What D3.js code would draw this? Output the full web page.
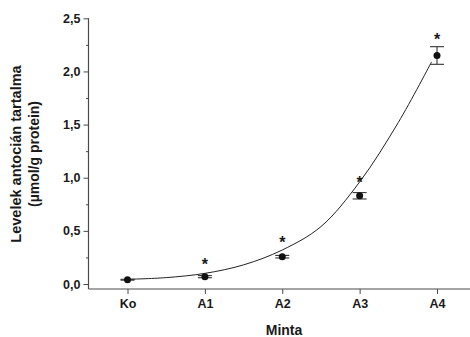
<!DOCTYPE html>
<html>
<head>
<meta charset="utf-8">
<script src="https://cdn.jsdelivr.net/npm/d3@7/dist/d3.min.js"></script>
<style>
  html, body { margin: 0; padding: 0; background: #fff; }
  svg { display: block; }
  text { font-family: "Liberation Sans", Arial, Helvetica, sans-serif; font-weight: bold; fill: #1a1a1a; }
</style>
</head>
<body>
<svg id="chart" width="470" height="337"></svg>
<script>
// Sample groups on the x axis
const categories = ["Ko", "A1", "A2", "A3", "A4"];
// Mean leaf anthocyanin content (µmol/g protein) and its error
const means = [0.04, 0.069, 0.257, 0.83, 2.15];
const errors = [0.004, 0.01, 0.012, 0.03, 0.083];
// Groups marked as significant, with the level the asterisk sits at
const sigGroups = [1, 2, 3, 4];
const sigLevels = [0.22, 0.42, 0.99, 2.33];
// Trend curve traced through the groups (x as group position)
const curveX = [0, 0.5, 1, 1.5, 2, 2.5, 3, 3.5, 3.93];
const curveY = [0.044, 0.06, 0.10, 0.18, 0.32, 0.54, 0.96, 1.52, 2.09];
// Axis ticks
const yMajor = [0, 0.5, 1.0, 1.5, 2.0, 2.5];
const yMinor = [0.25, 0.75, 1.25, 1.75, 2.25];

const svg = d3.select("#chart");
const axisX0 = 88.5, axisBottom = 289, plotRight = 470;

const x = d3.scaleLinear().domain([0, categories.length - 1]).range([127.5, 437]);
const y = d3.scaleLinear().domain([0, 2.5]).range([284, 18.3]);
const fmt = d => d3.format(".1f")(d).replace(".", ",");

const axisColor = "#4a4a4a";

// Y axis: major and minor ticks
const gy = svg.append("g").attr("transform", `translate(${axisX0},0)`);
gy.call(d3.axisLeft(y).tickValues(yMajor).tickSize(5).tickPadding(3).tickFormat(fmt));
gy.select(".domain").remove();
gy.selectAll(".tick line").attr("stroke", axisColor);
gy.selectAll(".tick text").style("font-size", "12.5px").attr("fill", "#1a1a1a");
const gyMinor = svg.append("g").attr("transform", `translate(${axisX0},0)`);
gyMinor.call(d3.axisLeft(y).tickValues(yMinor).tickSize(2.5).tickFormat(""));
gyMinor.select(".domain").remove();
gyMinor.selectAll(".tick line").attr("stroke", axisColor);

// X axis
const gx = svg.append("g").attr("transform", `translate(0,${axisBottom})`);
gx.call(d3.axisBottom(x).tickValues(d3.range(categories.length)).tickSize(5).tickPadding(5)
  .tickFormat(i => categories[i]));
gx.select(".domain").remove();
gx.selectAll(".tick line").attr("stroke", axisColor);
gx.selectAll(".tick text").style("font-size", "12.5px").attr("fill", "#1a1a1a");

// Axis frame lines
svg.append("line").attr("x1", axisX0).attr("x2", axisX0).attr("y1", y(2.5)).attr("y2", axisBottom)
  .attr("stroke", axisColor).attr("stroke-width", 1.2);
svg.append("line").attr("x1", axisX0).attr("x2", plotRight).attr("y1", axisBottom).attr("y2", axisBottom)
  .attr("stroke", axisColor).attr("stroke-width", 1.2);

// Trend curve
const curvePts = curveX.map((cx, i) => [cx, curveY[i]]);
svg.append("path")
  .datum(curvePts)
  .attr("fill", "none")
  .attr("stroke", "#222")
  .attr("stroke-width", 1)
  .attr("d", d3.line().x(d => x(d[0])).y(d => y(d[1])).curve(d3.curveCatmullRom.alpha(0.5)));

// Error bars
const capHalf = 7;
const eb = svg.append("g").attr("stroke", "#333").attr("stroke-width", 1.1);
means.forEach((m, i) => {
  const cx = x(i), top = y(m + errors[i]), bot = y(m - errors[i]);
  eb.append("line").attr("x1", cx).attr("x2", cx).attr("y1", top).attr("y2", bot);
  eb.append("line").attr("x1", cx - capHalf).attr("x2", cx + capHalf).attr("y1", top).attr("y2", top);
  eb.append("line").attr("x1", cx - capHalf).attr("x2", cx + capHalf).attr("y1", bot).attr("y2", bot);
});

// Mean points
svg.append("g").selectAll("circle").data(means).join("circle")
  .attr("cx", (d, i) => x(i)).attr("cy", d => y(d)).attr("r", 3.5).attr("fill", "#111");

// Significance asterisks
const starSize = 16;
svg.append("g").selectAll("text").data(sigGroups).join("text")
  .attr("x", d => x(d)).attr("y", (d, i) => y(sigLevels[i]) + starSize * 0.56)
  .attr("text-anchor", "middle").style("font-size", starSize + "px").text("*");

// Axis titles
svg.append("text").attr("x", 284).attr("y", 335).attr("text-anchor", "middle")
  .style("font-size", "14px").text("Minta");
const ly = svg.append("g").attr("transform", "translate(0,154) rotate(-90)");
ly.append("text").attr("x", 0).attr("y", 20.5).attr("text-anchor", "middle")
  .style("font-size", "14.5px").text("Levelek antocián tartalma");
ly.append("text").attr("x", 0).attr("y", 39).attr("text-anchor", "middle")
  .style("font-size", "14px").text("(µmol/g protein)");
</script>
</body>
</html>
